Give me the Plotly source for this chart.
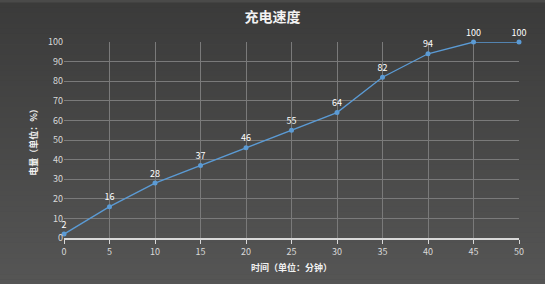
import plotly.graph_objects as go

minutes = [0, 5, 10, 15, 20, 25, 30, 35, 40, 45, 50]
charge = [2, 16, 28, 37, 46, 55, 64, 82, 94, 100, 100]
x_ticks = [0, 5, 10, 15, 20, 25, 30, 35, 40, 45, 50]
y_ticks = [0, 10, 20, 30, 40, 50, 60, 70, 80, 90, 100]

fig = go.Figure()
fig.add_trace(go.Scatter(
    x=minutes, y=charge, mode="lines+markers+text",
    text=[str(v) for v in charge], textposition="top center",
    textfont=dict(color="#ffffff", size=9, family="Noto Sans CJK SC"),
    line=dict(color="#5b9bd5", width=1.3),
    marker=dict(color="#5b9bd5", size=5),
    cliponaxis=False, hoverinfo="skip",
))

# vertical gradient background
n = 60
top = (0x3b, 0x3b, 0x3a)
bot = (0x58, 0x58, 0x58)
shapes = []
for i in range(n):
    t = i / (n - 1)
    c = tuple(round(top[k] + (bot[k] - top[k]) * t) for k in range(3))
    shapes.append(dict(type="rect", xref="paper", yref="paper",
                       x0=-0.2, x1=1.2,
                       y0=1.2 - (i + 1) * 1.6 / n, y1=1.2 - i * 1.6 / n + 0.002,
                       fillcolor="rgb(%d,%d,%d)" % c, line=dict(width=0), layer="below"))

fig.update_layout(
    width=545, height=284,
    margin=dict(l=64, r=26, t=42, b=43),
    paper_bgcolor="#4a4a49", plot_bgcolor="rgba(0,0,0,0)",
    shapes=shapes,
    showlegend=False,
    font=dict(family="Noto Sans CJK SC", color="#d9d9d9", size=9),
    title=dict(text="<b>充电速度</b>", x=0.5, xanchor="center", y=0.94, yanchor="middle",
               font=dict(size=14, color="#f2f2f2")),
    xaxis=dict(range=[0, 50], tickvals=x_ticks, showgrid=True, gridcolor="#7a7a7a", gridwidth=1,
               zeroline=False, showline=True, linecolor="#d9d9d9", linewidth=1.5,
               ticks="outside", ticklen=4, tickcolor="#d9d9d9",
               title=dict(text="<b>时间（单位：分钟）</b>", font=dict(size=9, color="#f2f2f2"), standoff=8),
               tickfont=dict(size=9, color="#d9d9d9")),
    yaxis=dict(range=[0, 100], tickvals=y_ticks, showgrid=True, gridcolor="#7a7a7a", gridwidth=1,
               zeroline=False, showline=False,
               title=dict(text="<b>电量（单位：%）</b>", font=dict(size=9, color="#f2f2f2"), standoff=8),
               tickfont=dict(size=9, color="#d9d9d9")),
)
fig.write_html("out.html")
